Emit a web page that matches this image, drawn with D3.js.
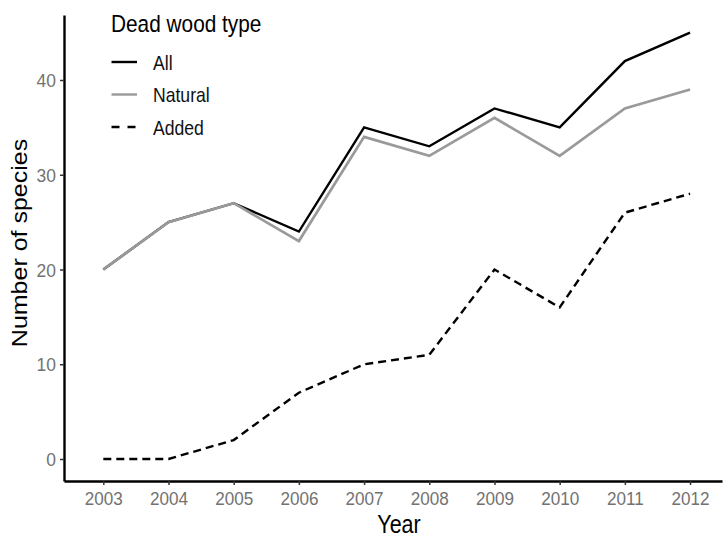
<!DOCTYPE html>
<html><head><meta charset="utf-8">
<script src="https://cdn.jsdelivr.net/npm/d3@7"></script>
<style>body{margin:0;background:#fff;} svg{display:block;}</style>
</head><body>
<svg id="c" width="724" height="539"></svg>
<script>
const years = [2003,2004,2005,2006,2007,2008,2009,2010,2011,2012];
const allVals = [20,25,27,24,35,33,37,35,42,45];
const naturalVals = [20,25,27,23,34,32,36,32,37,39];
const addedVals = [0,0,2,7,10,11,20,16,26,28];
const seriesNames = ["All","Natural","Added"];
const yTicks = [0,10,20,30,40];

const svg = d3.select("#c");
const x = d3.scaleLinear().domain([2002.397, 2012.49]).range([64, 722]);
const y = d3.scaleLinear().domain([-2.32, 46.86]).range([481, 15]);

const font = "Liberation Sans, Arial, sans-serif";

// axes
const xAxis = svg.append("g").attr("transform","translate(0,481)")
  .call(d3.axisBottom(x).tickValues(years).tickFormat(d3.format("d")).tickSize(4).tickSizeOuter(0));
const yAxis = svg.append("g").attr("transform","translate(64,0)")
  .call(d3.axisLeft(y).tickValues(yTicks).tickSize(4).tickSizeOuter(0));
[xAxis,yAxis].forEach(g=>{
  g.select(".domain").attr("stroke","#000").attr("stroke-width",2.4);
  g.selectAll(".tick line").attr("stroke","#333").attr("stroke-width",1.5);
  g.selectAll(".tick text").attr("fill","#727272").style("font-family",font).style("font-size","19px");
});
// x tick labels: slightly condensed
xAxis.selectAll(".tick text").attr("y",0).attr("dy",null)
  .attr("transform","translate(0,24) scale(0.9,1)");
yAxis.selectAll(".tick text").attr("x",0).attr("dy","0.35em")
  .attr("transform","translate(-8,0) scale(0.92,1)");

// titles
svg.append("text").attr("transform","translate(399,533) scale(0.86,1)").attr("text-anchor","middle")
  .style("font-family",font).style("font-size","25px").attr("fill","#000").text("Year");
svg.append("text").attr("transform","translate(27,243) rotate(-90) scale(1,0.88)").attr("text-anchor","middle")
  .style("font-family",font).style("font-size","25px").attr("fill","#000").text("Number of species");

const line = d3.line().x((d,i)=>x(years[i])).y(d=>y(d));
const styles = {
  All:{stroke:"#000", dash:null, w:2.4, data:allVals},
  Natural:{stroke:"#9a9a9a", dash:null, w:2.7, data:naturalVals},
  Added:{stroke:"#000", dash:"8,5", w:2.4, data:addedVals}
};
seriesNames.forEach(n=>{
  const s = styles[n];
  svg.append("path").datum(s.data).attr("d",line).attr("fill","none")
    .attr("stroke",s.stroke).attr("stroke-width",s.w).attr("stroke-dasharray",s.dash);
});

// legend
svg.append("text").attr("transform","translate(111,31.5) scale(0.85,1)").style("font-family",font).style("font-size","24.5px")
  .attr("fill","#000").text("Dead wood type");
const legY = [62,94.5,127];
seriesNames.forEach((n,i)=>{
  const s = styles[n];
  svg.append("line").attr("x1",111.5).attr("x2",137).attr("y1",legY[i]).attr("y2",legY[i])
    .attr("stroke",s.stroke).attr("stroke-width",2.4).attr("stroke-dasharray",s.dash ? "8,8" : null);
  svg.append("text").attr("transform",`translate(153,${legY[i]+7.5}) scale(0.88,1)`).style("font-family",font).style("font-size","20px")
    .attr("fill","#111").text(n);
});
</script>
</body></html>
